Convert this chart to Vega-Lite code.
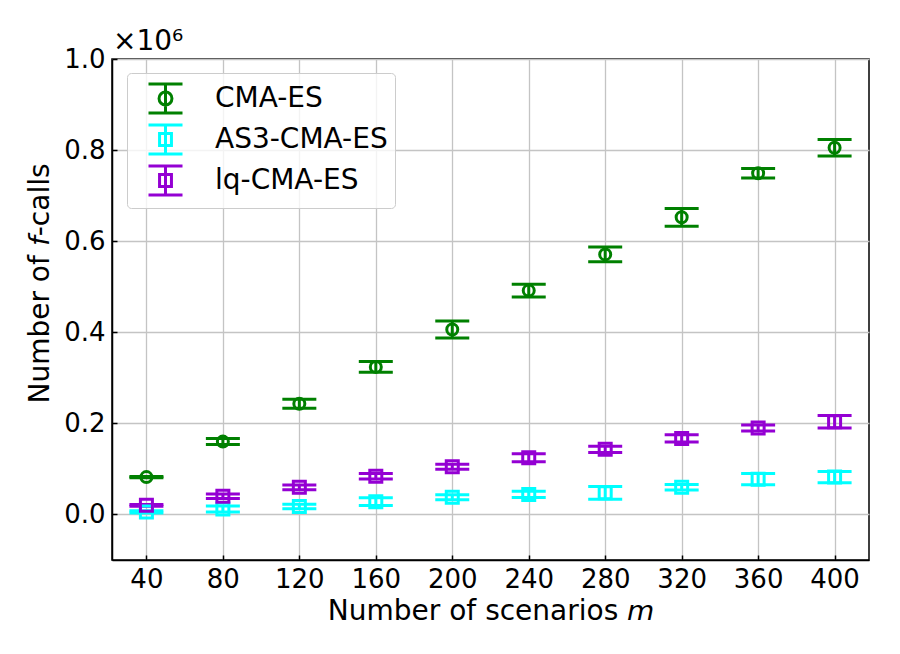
{
  "$schema": "https://vega.github.io/schema/vega-lite/v6.json",
  "width": 757,
  "height": 501,
  "autosize": "none",
  "padding": {"left": 112, "top": 59, "right": 31, "bottom": 94},
  "background": "white",
  "title": {
    "text": "×10⁶",
    "anchor": "start",
    "frame": "group",
    "font": "DejaVu Sans",
    "fontSize": 28,
    "fontWeight": "normal",
    "color": "black",
    "offset": 1,
    "dx": 1,
    "dy": 11
  },
  "config": {
    "view": {"stroke": "black", "strokeWidth": 1.5},
    "axis": {
      "labelFont": "DejaVu Sans",
      "labelFontSize": 26,
      "labelColor": "black",
      "titleFont": "DejaVu Sans",
      "titleFontSize": 28,
      "titleFontWeight": "normal",
      "titleColor": "black",
      "tickColor": "black",
      "tickWidth": 1.5,
      "tickSize": -5,
      "domainColor": "black",
      "domainWidth": 1.5,
      "gridColor": "#c4c4c4",
      "gridWidth": 1.3
    },
    "legend": {
      "labelFont": "DejaVu Sans",
      "labelFontSize": 28,
      "labelColor": "black",
      "labelLimit": 400
    }
  },
  "data": {
    "values": [
      {"series": "CMA-ES", "m": 40, "mean": 82000, "lo": 80500, "hi": 83500},
      {"series": "CMA-ES", "m": 80, "mean": 160000, "lo": 153500, "hi": 166500},
      {"series": "CMA-ES", "m": 120, "mean": 243000, "lo": 233000, "hi": 253000},
      {"series": "CMA-ES", "m": 160, "mean": 324000, "lo": 312000, "hi": 336000},
      {"series": "CMA-ES", "m": 200, "mean": 406000, "lo": 387500, "hi": 424500},
      {"series": "CMA-ES", "m": 240, "mean": 491500, "lo": 477500, "hi": 505500},
      {"series": "CMA-ES", "m": 280, "mean": 571000, "lo": 555000, "hi": 587000},
      {"series": "CMA-ES", "m": 320, "mean": 652500, "lo": 633000, "hi": 672000},
      {"series": "CMA-ES", "m": 360, "mean": 749000, "lo": 738500, "hi": 759500},
      {"series": "CMA-ES", "m": 400, "mean": 805000, "lo": 787000, "hi": 823000},
      {"series": "AS3-CMA-ES", "m": 40, "mean": 5500, "lo": 3000, "hi": 8000},
      {"series": "AS3-CMA-ES", "m": 80, "mean": 12000, "lo": 5500, "hi": 18500},
      {"series": "AS3-CMA-ES", "m": 120, "mean": 17500, "lo": 12500, "hi": 22500},
      {"series": "AS3-CMA-ES", "m": 160, "mean": 28000, "lo": 19500, "hi": 36500},
      {"series": "AS3-CMA-ES", "m": 200, "mean": 38000, "lo": 32500, "hi": 43500},
      {"series": "AS3-CMA-ES", "m": 240, "mean": 44000, "lo": 37000, "hi": 51000},
      {"series": "AS3-CMA-ES", "m": 280, "mean": 47500, "lo": 33500, "hi": 61500},
      {"series": "AS3-CMA-ES", "m": 320, "mean": 59500, "lo": 53500, "hi": 65500},
      {"series": "AS3-CMA-ES", "m": 360, "mean": 77500, "lo": 65000, "hi": 90000},
      {"series": "AS3-CMA-ES", "m": 400, "mean": 82000, "lo": 69500, "hi": 94500},
      {"series": "lq-CMA-ES", "m": 40, "mean": 20000, "lo": 18000, "hi": 22000},
      {"series": "lq-CMA-ES", "m": 80, "mean": 40000, "lo": 35000, "hi": 45000},
      {"series": "lq-CMA-ES", "m": 120, "mean": 59500, "lo": 54500, "hi": 64500},
      {"series": "lq-CMA-ES", "m": 160, "mean": 84000, "lo": 78000, "hi": 90000},
      {"series": "lq-CMA-ES", "m": 200, "mean": 104500, "lo": 99000, "hi": 110000},
      {"series": "lq-CMA-ES", "m": 240, "mean": 124500, "lo": 115500, "hi": 133500},
      {"series": "lq-CMA-ES", "m": 280, "mean": 143000, "lo": 136000, "hi": 150000},
      {"series": "lq-CMA-ES", "m": 320, "mean": 167000, "lo": 159000, "hi": 175000},
      {"series": "lq-CMA-ES", "m": 360, "mean": 190000, "lo": 183500, "hi": 196500},
      {"series": "lq-CMA-ES", "m": 400, "mean": 203500, "lo": 190000, "hi": 217000}
    ]
  },
  "encoding": {
    "x": {
      "field": "m",
      "type": "quantitative",
      "title": "Number of scenarios 𝘮",
      "scale": {"domain": [22, 418], "nice": false, "zero": false},
      "axis": {
        "values": [40, 80, 120, 160, 200, 240, 280, 320, 360, 400],
        "labelPadding": 11,
        "titlePadding": 5
      }
    }
  },
  "layer": [
    {
      "mark": {"type": "point", "filled": false, "opacity": 0},
      "encoding": {
        "y": {
          "field": "mean",
          "type": "quantitative",
          "title": "Number of 𝘧-calls",
          "scale": {"domain": [-100000, 1000000], "nice": false, "zero": false},
          "axis": {
            "values": [0, 200000, 400000, 600000, 800000, 1000000],
            "labelExpr": "format(datum.value / 1000000, '.1f')",
            "labelPadding": 12,
            "titlePadding": 9,
            "titleY": 224
          }
        },
        "color": {
          "field": "series",
          "type": "nominal",
          "scale": {
            "domain": ["CMA-ES", "AS3-CMA-ES", "lq-CMA-ES"],
            "range": ["#008000", "#00ffff", "#9400d3"]
          },
          "legend": {
            "title": null,
            "orient": "none",
            "legendX": 15,
            "legendY": 14,
            "padding": 7,
            "symbolSize": 1156,
            "symbolStrokeWidth": 3,
            "symbolOpacity": 1,
            "symbolFillColor": "transparent",
            "symbolOffset": 13,
            "labelOffset": 31,
            "rowPadding": 0,
            "fillColor": "rgba(255,255,255,0.8)",
            "strokeColor": "#cccccc",
            "cornerRadius": 4
          }
        },
        "shape": {
          "field": "series",
          "type": "nominal",
          "scale": {
            "domain": ["CMA-ES", "AS3-CMA-ES", "lq-CMA-ES"],
            "range": [
              "M-1,-0.85H1M-1,0.85H1M0,-0.85V0.85M0.38,0A0.38,0.38 0 1,1 -0.38,0A0.38,0.38 0 1,1 0.38,0M0.38,0A0.38,0.38 0 1,0 -0.38,0A0.38,0.38 0 1,0 0.38,0",
              "M-1,-0.85H1M-1,0.85H1M0,-0.85V0.85M-0.35,-0.35H0.35V0.35H-0.35ZM-0.35,-0.35V0.35H0.35V-0.35Z",
              "M-1,-0.85H1M-1,0.85H1M0,-0.85V0.85M-0.35,-0.35H0.35V0.35H-0.35ZM-0.35,-0.35V0.35H0.35V-0.35Z"
            ]
          }
        }
      }
    },
    {
      "mark": {"type": "rule", "strokeWidth": 3},
      "encoding": {
        "y": {"field": "lo", "type": "quantitative"},
        "y2": {"field": "hi"},
        "color": {"field": "series", "type": "nominal", "legend": null}
      }
    },
    {
      "mark": {"type": "tick", "orient": "horizontal", "size": 34, "thickness": 3, "opacity": 1},
      "encoding": {
        "y": {"field": "lo", "type": "quantitative"},
        "color": {"field": "series", "type": "nominal", "legend": null}
      }
    },
    {
      "mark": {"type": "tick", "orient": "horizontal", "size": 34, "thickness": 3, "opacity": 1},
      "encoding": {
        "y": {"field": "hi", "type": "quantitative"},
        "color": {"field": "series", "type": "nominal", "legend": null}
      }
    },
    {
      "transform": [{"filter": "datum.series === 'CMA-ES'"}],
      "mark": {"type": "point", "shape": "circle", "filled": false, "size": 121, "strokeWidth": 3, "opacity": 1},
      "encoding": {
        "y": {"field": "mean", "type": "quantitative"},
        "color": {"field": "series", "type": "nominal", "legend": null}
      }
    },
    {
      "transform": [{"filter": "datum.series !== 'CMA-ES'"}],
      "mark": {"type": "point", "shape": "square", "filled": false, "size": 144, "strokeWidth": 3, "opacity": 1},
      "encoding": {
        "y": {"field": "mean", "type": "quantitative"},
        "color": {"field": "series", "type": "nominal", "legend": null}
      }
    }
  ]
}
